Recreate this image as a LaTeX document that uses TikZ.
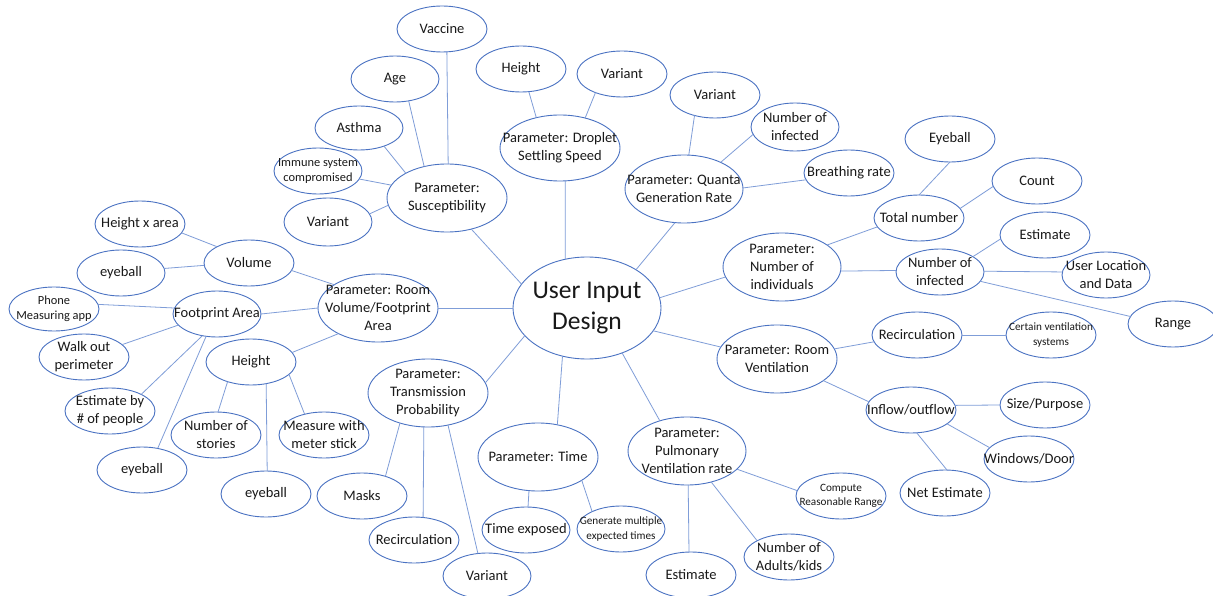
\documentclass[tikz,border=0pt]{standalone}
\usepackage{fontspec}
\setmainfont{Carlito}
\usetikzlibrary{shapes.geometric}

\definecolor{edgeblue}{HTML}{4A72C2}
\definecolor{linkblue}{HTML}{7F9DD8}

\newcommand\txtnormal{\fontsize{14.5}{18}\selectfont}
\newcommand\txtsmall{\fontsize{11.2}{14.3}\selectfont}
\newcommand\txtmid{\fontsize{12.4}{15.5}\selectfont}
\newcommand\txtbig{\fontsize{25.5}{31}\selectfont}

\tikzset{
  bub/.style={ellipse, draw=edgeblue, line width=0.9pt, fill=white,
    inner sep=-60pt, outer sep=0pt, align=center, font=\txtnormal, text=black!90},
  sz/.style 2 args={minimum width=2*#1, minimum height=2*#2},
  small/.style={font=\txtsmall},
  mid/.style={font=\txtmid},
  link/.style={draw=linkblue, line width=0.8pt}
}

\begin{document}
\begin{tikzpicture}[x=1pt, y=-1pt]
\fill[white] (0,0) rectangle (1213,596);
\useasboundingbox (0,0) rectangle (1213,596);

% hub
\node[bub, sz={74}{51}, font=\txtbig] (ctr) at (587,308) {User Input\\Design};

% susceptibility branch
\node[bub, sz={60}{34}] (susc) at (447,198) {Parameter:\\Susceptibility};
\node[bub, sz={45}{23}] (vacc) at (442,29) {Vaccine};
\node[bub, sz={44}{23}] (age)  at (395,79) {Age};
\node[bub, sz={44}{22}] (asth) at (359,128) {Asthma};
\node[bub, sz={44}{23}, mid] (imm) at (318,171) {Immune system\\compromised};
\node[bub, sz={44}{24}] (svar) at (328,222) {Variant};

% droplet settling branch
\node[bub, sz={60}{33}] (drop) at (560,148) {Parameter: Droplet\\Settling Speed};
\node[bub, sz={45}{23}] (dhgt) at (521,69) {Height};
\node[bub, sz={45}{23}] (dvar) at (622,74) {Variant};

% quanta generation branch
\node[bub, sz={59}{34}] (quan) at (684,189) {Parameter: Quanta\\Generation Rate};
\node[bub, sz={45}{23}] (qvar) at (715,95) {Variant};
\node[bub, sz={44}{24}] (qinf) at (795,127) {Number of\\infected};
\node[bub, sz={45}{23}] (brth) at (849,173) {Breathing rate};

% number of individuals branch
\node[bub, sz={59}{34}] (nind) at (782,267) {Parameter:\\Number of\\individuals};
\node[bub, sz={45}{23}] (tot)  at (919,218) {Total number};
\node[bub, sz={45}{23}] (eyeA) at (950,139) {Eyeball};
\node[bub, sz={45}{23}] (cnt)  at (1037,181) {Count};
\node[bub, sz={44}{23}] (ninf) at (940,272) {Number of\\infected};
\node[bub, sz={45}{23}] (estA) at (1045,235) {Estimate};
\node[bub, sz={44}{23}] (uloc) at (1106,275) {User Location\\and Data};
\node[bub, sz={45}{23}] (rng)  at (1173,324) {Range};

% room ventilation branch
\node[bub, sz={60}{34}] (vent) at (777,359) {Parameter: Room\\Ventilation};
\node[bub, sz={45}{23}] (vrec) at (917,335) {Recirculation};
\node[bub, sz={45}{23}, small] (cert) at (1051,335) {Certain ventilation\\systems};
\node[bub, sz={45}{23}] (flow) at (911,410) {Inflow/outflow};
\node[bub, sz={45}{23}] (size) at (1045,405) {Size/Purpose};
\node[bub, sz={45}{23}] (wind) at (1029,459) {Windows/Door};
\node[bub, sz={45}{23}] (net)  at (945,493) {Net Estimate};

% pulmonary ventilation branch
\node[bub, sz={59}{34}] (pulm) at (687,451) {Parameter:\\Pulmonary\\Ventilation rate};
\node[bub, sz={45}{23}, small] (comp) at (841,496) {Compute\\Reasonable Range};
\node[bub, sz={45}{23}] (adul) at (789,557) {Number of\\Adults/kids};
\node[bub, sz={45}{23}] (estB) at (691,575) {Estimate};

% time branch
\node[bub, sz={60}{34}] (time) at (538,457) {Parameter: Time};
\node[bub, sz={44}{23}] (texp) at (526,530) {Time exposed};
\node[bub, sz={44}{23}, small] (gen) at (621,529) {Generate multiple\\expected times};

% transmission branch
\node[bub, sz={60}{34}] (trans) at (428,393) {Parameter:\\Transmission\\Probability};
\node[bub, sz={45}{23}] (mask) at (362,496) {Masks};
\node[bub, sz={45}{23}] (trec) at (414,540) {Recirculation};
\node[bub, sz={44}{23}] (tvar) at (487,576) {Variant};

% room volume branch
\node[bub, sz={60}{34}] (room) at (378,308) {Parameter: Room\\Volume/Footprint\\Area};
\node[bub, sz={45}{23}] (vol)  at (249,263) {Volume};
\node[bub, sz={45}{23}] (hxa)  at (140,224) {Height x area};
\node[bub, sz={44}{23}] (eyeB) at (121,273) {eyeball};
\node[bub, sz={44}{23}] (foot) at (217,314) {Footprint Area};
\node[bub, sz={45}{22}, mid] (phone) at (54,309) {Phone\\Measuring app};
\node[bub, sz={45}{23}] (walk) at (84,357) {Walk out\\perimeter};
\node[bub, sz={45}{23}] (estby) at (110,411) {Estimate by\\\# of people};
\node[bub, sz={45}{23}] (eyeC) at (142,470) {eyeball};
\node[bub, sz={45}{23}] (rhgt) at (251,362) {Height};
\node[bub, sz={45}{23}] (stor) at (216,435) {Number of\\stories};
\node[bub, sz={45}{23}] (meas) at (324,435) {Measure with\\meter stick};
\node[bub, sz={45}{23}] (eyeD) at (266,494) {eyeball};

% connectors from the hub
\draw[link] (susc.-52.9) -- (ctr.160.6);
\draw[link] (drop.-81.6) -- (ctr.114.6);
\draw[link] (quan.255.6) -- (ctr.38);
\draw[link] (nind.190)   -- (ctr.8.5);
\draw[link] (vent.168.5) -- (ctr.-19.7);
\draw[link] (room.0)     -- (ctr.180);
\draw[link] (trans.10.9) -- (ctr.204.4);
\draw[link] (time.59.3)  -- (ctr.243.4);
\draw[link] (pulm.132)   -- (ctr.-52.5);

% susceptibility
\draw[link] (vacc.-78)   -- (susc.88.3);
\draw[link] (age.-58.7)  -- (susc.126.9);
\draw[link] (asth.-36.2) -- (susc.149.2);
\draw[link] (imm.-11.3)  -- (susc.167.7);
\draw[link] (svar.11.8)  -- (susc.187.7);

% droplet
\draw[link] (dhgt.-71.6) -- (drop.128.9);
\draw[link] (dvar.215.1) -- (drop.50);

% quanta
\draw[link] (qvar.225)   -- (quan.82.9);
\draw[link] (qinf.190.3) -- (quan.36.9);
\draw[link] (brth.189)   -- (quan.1);

% number of individuals
\draw[link] (tot.192.1)  -- (nind.26.1);
\draw[link] (eyeA.south) -- (tot.north);
\draw[link] (cnt.187.8)  -- (tot.13.1);
\draw[link] (nind.-4.8)  -- (ninf.178.7);
\draw[link] (ninf.25.9)  -- (estA.185.2);
\draw[link] (ninf.1.3)   -- (uloc.176.1);
\draw[link] (ninf.-13.4) -- (rng.170.8);

% room ventilation
\draw[link] (vent.10.1)  -- (vrec.189);
\draw[link] (vrec.0)     -- (cert.180);
\draw[link] (vent.-25.1) -- (flow.169.2);
\draw[link] (flow.6.5)   -- (size.180);
\draw[link] (flow.-21.5) -- (wind.164.2);
\draw[link] (flow.-76.5) -- (net.85);

% pulmonary ventilation
\draw[link] (pulm.-20.4) -- (comp.173.5);
\draw[link] (pulm.-52)   -- (adul.153.4);
\draw[link] (pulm.-88)   -- (estB.95);

% time
\draw[link] (time.255.6) -- (texp.85);
\draw[link] (time.-28)   -- (gen.149.6);

% transmission
\draw[link] (trans.227.9) -- (mask.40);
\draw[link] (trans.263.3) -- (trec.68.6);
\draw[link] (trans.-58.5) -- (tvar.112.2);

% room volume
\draw[link] (vol.-10.3)  -- (room.152.9);
\draw[link] (hxa.-12.1)  -- (vol.153.4);
\draw[link] (eyeB.6.5)   -- (vol.183.9);
\draw[link] (foot.0)     -- (room.180);
\draw[link] (phone.6.3)  -- (foot.172.4);
\draw[link] (walk.18.4)  -- (foot.196.7);
\draw[link] (estby.28.6) -- (foot.236.8);
\draw[link] (eyeC.54)    -- (foot.244.4);
\draw[link] (rhgt.13.7)  -- (room.213.3);
\draw[link] (rhgt.220)   -- (stor.85);
\draw[link] (rhgt.-55.2) -- (eyeD.87.4);
\draw[link] (rhgt.-18.4) -- (meas.133.7);
\end{tikzpicture}
\end{document}
